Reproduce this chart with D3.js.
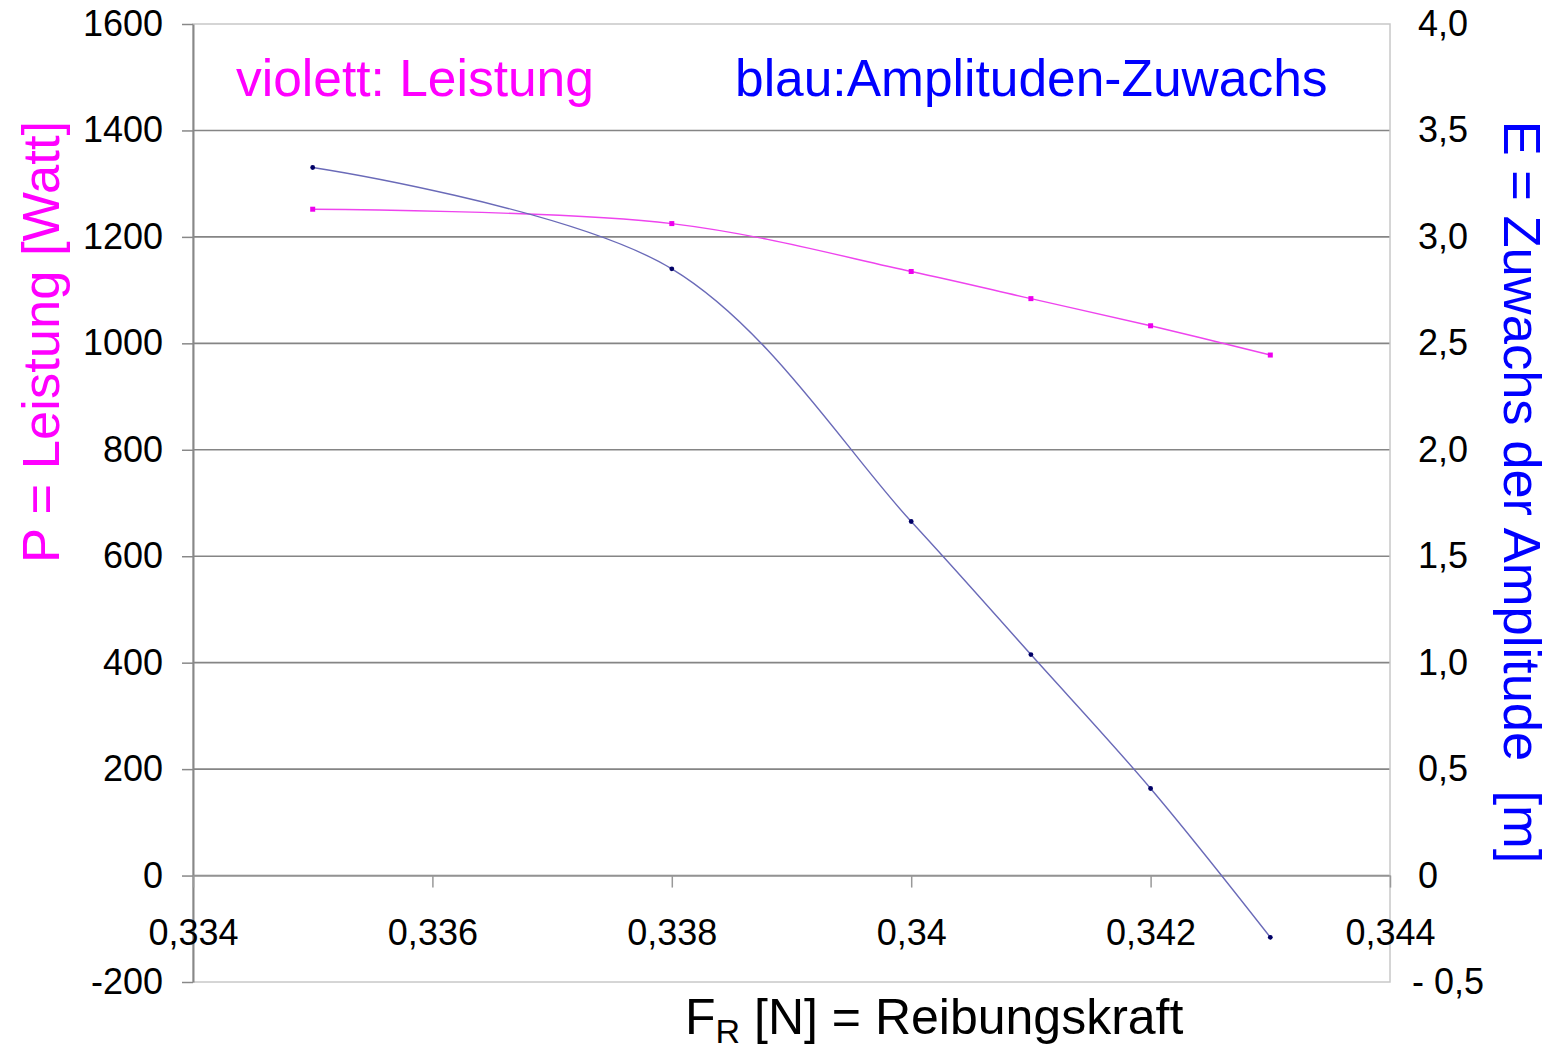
<!DOCTYPE html>
<html><head><meta charset="utf-8">
<script src="https://cdn.jsdelivr.net/npm/d3@7"></script>
<style>body{margin:0;background:#fff;overflow:hidden} text{font-family:"Liberation Sans",Arial,sans-serif}</style>
</head><body><svg id="c" width="1551" height="1053"></svg>
<script>
const frictionForce = [0.335, 0.338, 0.340, 0.341, 0.342, 0.343];
const powerWatt = [1252, 1225, 1135, 1084, 1033, 978];
const amplitudeGain = [3.326, 2.850, 1.663, 1.038, 0.409, -0.290];
const xTicks = [0.334, 0.336, 0.338, 0.340, 0.342, 0.344];
const xTickLabels = ["0,334", "0,336", "0,338", "0,34", "0,342", "0,344"];
const leftTicks = [-200, 0, 200, 400, 600, 800, 1000, 1200, 1400, 1600];
const rightTicks = [-0.5, 0, 0.5, 1.0, 1.5, 2.0, 2.5, 3.0, 3.5, 4.0];
const rightTickLabels = ["- 0,5", "0", "0,5", "1,0", "1,5", "2,0", "2,5", "3,0", "3,5", "4,0"];

const svg = d3.select("#c");
const L = 193, R = 1390, T = 24, B = 982;
const x = d3.scaleLinear().domain([0.334, 0.344]).range([L, R]);
const yL = d3.scaleLinear().domain([-200, 1600]).range([B, T]);
const yR = d3.scaleLinear().domain([-0.5, 4.0]).range([B, T]);

svg.append("rect").attr("width", 1551).attr("height", 1053).attr("fill", "#fff");

// gridlines
svg.append("g").selectAll("line").data(leftTicks.filter(d => d > -200 && d < 1600)).join("line")
  .attr("x1", L).attr("x2", R).attr("y1", d => yL(d)).attr("y2", d => yL(d))
  .attr("stroke", "#858585").attr("stroke-width", 1.6);
// border
svg.append("rect").attr("x", L).attr("y", T).attr("width", R - L).attr("height", B - T)
  .attr("fill", "none").attr("stroke", "#c8c8c8").attr("stroke-width", 1.5);

// left axis
const gl = svg.append("g").attr("transform", `translate(${L},0)`)
  .call(d3.axisLeft(yL).tickValues(leftTicks).tickSize(11).tickSizeOuter(0).tickFormat(d => String(d)));
gl.select(".domain").attr("stroke", "#888").attr("stroke-width", 2);
gl.selectAll(".tick line").attr("stroke", "#888").attr("stroke-width", 1.5);
gl.selectAll(".tick text").attr("x", -30).attr("font-size", 36).attr("fill", "#000")
  .attr("font-family", "Liberation Sans, Arial, sans-serif");

// x axis at zero
const gx = svg.append("g").attr("transform", `translate(0,${yL(0)})`)
  .call(d3.axisBottom(x).tickValues(xTicks).tickSize(12).tickSizeOuter(0).tickFormat((d, i) => xTickLabels[i]));
gx.select(".domain").attr("stroke", "#999").attr("stroke-width", 1.6);
gx.selectAll(".tick line").attr("stroke", "#999").attr("stroke-width", 1.5);
gx.selectAll(".tick text").attr("y", 57).attr("dy", "0.35em").attr("font-size", 36).attr("fill", "#000")
  .attr("font-family", "Liberation Sans, Arial, sans-serif");

// right axis labels
const gr = svg.append("g").attr("transform", `translate(${R},0)`)
  .call(d3.axisRight(yR).tickValues(rightTicks).tickSize(0).tickFormat((d, i) => rightTickLabels[i]));
gr.select(".domain").remove();
gr.selectAll(".tick text").attr("x", d => d < 0 ? 22 : 28).attr("font-size", 36).attr("fill", "#000")
  .attr("font-family", "Liberation Sans, Arial, sans-serif");

// lines
const line = (ys, yscale) => d3.line().x((d, i) => x(frictionForce[i])).y(d => yscale(d)).curve(d3.curveCatmullRom.alpha(0.5))(ys);
svg.append("path").attr("d", line(powerWatt, yL)).attr("fill", "none").attr("stroke", "#ee44ee").attr("stroke-width", 1.4);
svg.append("path").attr("d", line(amplitudeGain, yR)).attr("fill", "none").attr("stroke", "#6a6ab8").attr("stroke-width", 1.4);

svg.append("g").selectAll("rect").data(powerWatt).join("rect")
  .attr("x", (d, i) => x(frictionForce[i]) - 2.5).attr("y", d => yL(d) - 2.5)
  .attr("width", 5).attr("height", 5).attr("fill", "#ee00ee");
svg.append("g").selectAll("circle").data(amplitudeGain).join("circle")
  .attr("cx", (d, i) => x(frictionForce[i])).attr("cy", d => yR(d)).attr("r", 2.4).attr("fill", "#000066");

// texts
svg.append("text").attr("x", 236).attr("y", 96).attr("font-size", 51.5).attr("fill", "#ff00ff").text("violett: Leistung");
svg.append("text").attr("x", 735).attr("y", 96).attr("font-size", 51.5).attr("fill", "#0000ff").text("blau:Amplituden-Zuwachs");
svg.append("text").attr("transform", "translate(59,342) rotate(-90)").attr("text-anchor", "middle")
  .attr("font-size", 52.5).attr("fill", "#ff00ff").text("P = Leistung [Watt]");
svg.append("text").attr("transform", "translate(1504,492) rotate(90)").attr("text-anchor", "middle")
  .attr("font-size", 52.5).attr("fill", "#0000ff").attr("xml:space", "preserve").style("white-space", "pre")
  .text("E = Zuwachs der Amplitude  [m]");
const xl = svg.append("text").attr("x", 685).attr("y", 1034).attr("font-size", 50).attr("fill", "#000");
xl.append("tspan").text("F");
xl.append("tspan").attr("font-size", 34).attr("dy", 9).text("R");
xl.append("tspan").attr("dy", -9).text(" [N] = Reibungskraft");
</script></body></html>
